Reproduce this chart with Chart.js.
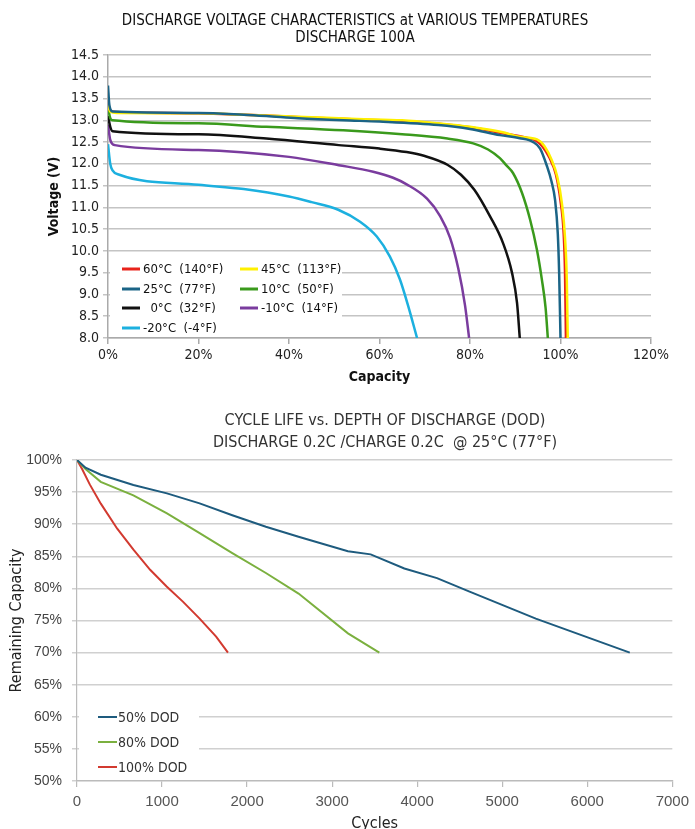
<!DOCTYPE html>
<html lang="en">
<head>
  <meta charset="UTF-8" />
  <title>Discharge Voltage and Cycle Life</title>
  <script src="https://cdn.jsdelivr.net/npm/chart.js"></script>
  <style>
    html, body { margin: 0; padding: 0; background: #fff; }
    body { width: 695px; height: 829px; position: relative; overflow: hidden; }
    .box { position: absolute; left: 0; width: 695px; }
    #box1 { top: 0; height: 392px; }
    #box2 { top: 395px; height: 434px; }
  </style>
</head>
<body>
  <div id="box1" class="box"><canvas id="voltChart"></canvas></div>
  <div id="box2" class="box"><canvas id="cycleChart"></canvas></div>

  <script>
    // ---- chart 1: discharge voltage, [capacity %, volts]
    const tempLabels = ['60°C  (140°F)', '45°C  (113°F)', '25°C  (77°F)', '10°C  (50°F)',
                        '  0°C  (32°F)', '-10°C  (14°F)', '-20°C  (-4°F)'];
    const tempColors = ['#e8231b', '#fff000', '#1b6486', '#3a9a1c', '#111111', '#7a3c9e', '#1cb0df'];

    const t60 = [[0,13.35],[0.5,13.22],[2,13.19],[20,13.16],[35,13.11],[45,13.06],[55,13.02],[65,12.98],
                 [73,12.92],[80,12.84],[87,12.71],[92,12.61],[94.5,12.54],[96,12.4],[97.5,12.15],[99,11.75],
                 [100,11.15],[100.7,10.4],[101,9.5],[101.2,8.0]];
    const t45 = [[0,13.35],[0.5,13.2],[2,13.17],[20,13.16],[30,13.13],[38,13.1],[45,13.07],[55,13.03],
                 [65,13.0],[73,12.93],[80,12.85],[87,12.73],[91,12.62],[94.8,12.56],[96.5,12.4],[98,12.1],
                 [99.3,11.7],[100.3,11.1],[101,10.3],[101.4,9.3],[101.6,8.0]];
    const t25 = [[0,13.8],[0.3,13.35],[1,13.2],[20,13.17],[30,13.13],[35,13.1],[42,13.05],[52,13.0],
                 [60,12.97],[73,12.89],[80,12.8],[86.6,12.66],[91,12.59],[94,12.5],[95.5,12.35],[97,11.95],
                 [98,11.6],[98.8,11.17],[99.4,10.4],[99.7,9.5],[100,8.0]];
    const t10 = [[0,13.3],[0.5,13.05],[1,13.0],[20,12.93],[35,12.85],[52,12.77],[65,12.68],[75,12.58],
                 [80.7,12.47],[84,12.33],[86.6,12.13],[88,11.97],[89.5,11.79],[91.5,11.33],[93.3,10.71],
                 [94.8,10.02],[95.9,9.33],[96.7,8.7],[97.2,8.0]];
    const t0 = [[0,13.1],[0.5,12.85],[1,12.75],[20,12.68],[35,12.58],[51,12.43],[60,12.35],[66,12.27],
                [70,12.18],[75,11.98],[78,11.75],[81,11.4],[84.4,10.8],[87.3,10.18],[89.3,9.49],[90.4,8.8],[91,8.0]];
    const tm10 = [[0,12.9],[0.5,12.55],[1.5,12.43],[20,12.32],[40,12.16],[51,11.97],[58.6,11.82],[63,11.68],
                  [66,11.53],[70.5,11.2],[73.4,10.8],[75.6,10.3],[77.4,9.6],[78.9,8.75],[79.8,8.0]];
    const tm20 = [[0,12.45],[0.5,12.0],[1,11.85],[2.5,11.75],[20,11.52],[30,11.42],[40,11.25],[45,11.12],
                  [51,10.94],[55.7,10.67],[59.4,10.33],[62.3,9.87],[64.5,9.35],[66.3,8.75],[68.3,8.0]];
    const tempSeries = [t60, t45, t25, t10, t0, tm10, tm20];
    const tempOrder = [3, 2, 1, 4, 5, 6, 7];   // lower = drawn on top

    // ---- chart 2: cycle life, [cycles, remaining %]
    const dodLabels = ['50% DOD', '80% DOD', '100% DOD'];
    const dodColors = ['#1e5b7e', '#7bb03f', '#d23a30'];
    const dod50 = [[0,100],[100,98.8],[280,97.7],[663,96.1],[1058,94.8],[1442,93.25],[1826,91.4],[2221,89.6],
                   [2605,88.05],[3186,85.8],[3453,85.3],[3849,83.1],[4233,81.6],[4616,79.5],[5395,75.3],[6500,70.0]];
    const dod80 = [[0,100],[100,98.6],[279,96.6],[663,94.5],[1058,91.7],[1442,88.6],[1826,85.5],[2221,82.4],
                   [2605,79.2],[3186,73.0],[3555,70.0]];
    const dod100 = [[0,100],[60,98.6],[150,96.2],[280,93.2],[473,89.3],[666,86.0],[860,82.9],[1054,80.3],
                    [1248,77.9],[1442,75.3],[1636,72.5],[1775,70.0]];
    const dodSeries = [dod50, dod80, dod100];

    const NARROW = "'Liberation Sans Narrow', 'DejaVu Sans Condensed', 'Arial Narrow', sans-serif";
    const SANS = "'Liberation Sans', Arial, sans-serif";

    const toPts = arr => arr.map(p => ({ x: p[0], y: p[1] }));

    // title lines drawn at a fixed centre
    const pageTitle = {
      id: 'pageTitle',
      afterDraw(chart, args, o) {
        const c = chart.ctx;
        c.save();
        c.fillStyle = o.color;
        c.font = o.font;
        c.textAlign = 'center';
        c.textBaseline = 'middle';
        o.lines.forEach((t, i) => c.fillText(t, o.x, o.y[i]));
        c.restore();
      }
    };

    // legend inside the plot with a white backing box
    const inlineLegend = {
      id: 'inlineLegend',
      afterDatasetsDraw(chart, args, o) {
        const c = chart.ctx;
        c.save();
        c.fillStyle = '#fff';
        c.fillRect(o.box[0], o.box[1], o.box[2], o.box[3]);
        c.font = o.font;
        c.textBaseline = 'middle';
        chart.data.datasets.forEach((ds, i) => {
          const col = i % o.cols, row = Math.floor(i / o.cols);
          const x = o.x[col], y = o.y[row];
          c.strokeStyle = ds.borderColor;
          c.lineWidth = o.lineWidth;
          c.beginPath();
          c.moveTo(x, y);
          c.lineTo(x + o.sample, y);
          c.stroke();
          c.fillStyle = o.color;
          c.fillText(ds.label, x + o.sample + o.gap, y + 1);
        });
        c.restore();
      }
    };

    new Chart(document.getElementById('voltChart'), {
      type: 'line',
      data: {
        datasets: tempSeries.map((s, i) => ({
          label: tempLabels[i],
          data: toPts(s),
          borderColor: tempColors[i],
          borderWidth: 2.5,
          pointRadius: 0,
          cubicInterpolationMode: 'monotone',
          order: tempOrder[i]
        }))
      },
      options: {
        responsive: true,
        maintainAspectRatio: false,
        animation: false,
        layout: { padding: { left: 40, right: 44, top: 55, bottom: 2 } },
        scales: {
          x: {
            type: 'linear', min: 0, max: 120,
            ticks: { stepSize: 20, callback: v => v + '%', color: '#222', font: { family: NARROW, size: 14 }, padding: 3 },
            grid: { drawOnChartArea: false, tickLength: 6, color: '#aaa', lineWidth: 1.5 },
            border: { color: '#aaa', width: 1.5 },
            title: { display: true, text: 'Capacity', color: '#111', font: { family: NARROW, size: 14, weight: 'bold' }, padding: { top: 2 } },
            afterFit: s => { s.height = 52; }
          },
          y: {
            min: 8, max: 14.5,
            ticks: { stepSize: 0.5, callback: v => v.toFixed(1), color: '#222', font: { family: NARROW, size: 14 }, padding: 4 },
            grid: { color: '#c4c4c4', lineWidth: 1.5, tickLength: 5 },
            border: { color: '#aaa', width: 1.5 },
            title: { display: true, text: 'Voltage (V)', color: '#111', font: { family: NARROW, size: 14, weight: 'bold' }, padding: { top: 6 } },
            afterFit: s => { s.width = 68; }
          }
        },
        plugins: {
          legend: { display: false },
          tooltip: { enabled: false },
          pageTitle: {
            lines: ['DISCHARGE VOLTAGE CHARACTERISTICS at VARIOUS TEMPERATURES', 'DISCHARGE 100A'],
            x: 355, y: [21, 38], color: '#111', font: '15px ' + NARROW
          },
          inlineLegend: {
            box: [110, 258, 232, 76], cols: 2, x: [122, 240], y: [269, 289, 308, 328],
            sample: 18, gap: 3, lineWidth: 3, color: '#111', font: '13px ' + NARROW
          }
        }
      },
      plugins: [pageTitle, inlineLegend]
    });

    new Chart(document.getElementById('cycleChart'), {
      type: 'line',
      data: {
        datasets: dodSeries.map((s, i) => ({
          label: dodLabels[i],
          data: toPts(s),
          borderColor: dodColors[i],
          borderWidth: 2,
          pointRadius: 0,
          tension: 0
        }))
      },
      options: {
        responsive: true,
        maintainAspectRatio: false,
        animation: false,
        layout: { padding: { left: 4, right: 12, top: 65, bottom: 0 } },
        scales: {
          x: {
            type: 'linear', min: 0, max: 7000,
            ticks: { stepSize: 1000, callback: v => String(v), color: '#555', font: { family: SANS, size: 15 }, padding: 6 },
            grid: { drawOnChartArea: false, tickLength: 6, color: '#bbb', lineWidth: 1.2 },
            border: { color: '#bbb', width: 1.2 },
            title: { display: true, text: 'Cycles', color: '#222', font: { family: NARROW, size: 16 }, padding: { top: 5, bottom: -4 } },
            afterFit: s => { s.height = 48; }
          },
          y: {
            min: 50, max: 100,
            ticks: { stepSize: 5, callback: v => v + '%', color: '#444', font: { family: SANS, size: 14 }, padding: 10 },
            grid: { color: '#d0d0d0', lineWidth: 1.5, tickLength: 5 },
            border: { color: '#bbb', width: 1.2 },
            title: { display: true, text: 'Remaining Capacity', color: '#222', font: { family: NARROW, size: 16 }, padding: { top: 3 } },
            afterFit: s => { s.width = 73; }
          }
        },
        plugins: {
          legend: { display: false },
          tooltip: { enabled: false },
          pageTitle: {
            lines: ['CYCLE LIFE vs. DEPTH OF DISCHARGE (DOD)', 'DISCHARGE 0.2C /CHARGE 0.2C  @ 25°C (77°F)'],
            x: 385, y: [26, 48], color: '#333', font: '16px ' + NARROW
          },
          inlineLegend: {
            box: [79, 305, 120, 76], cols: 1, x: [98], y: [322, 347, 372],
            sample: 19, gap: 1, lineWidth: 2, color: '#333', font: '14px ' + NARROW
          }
        }
      },
      plugins: [pageTitle, inlineLegend]
    });
  </script>
</body>
</html>
